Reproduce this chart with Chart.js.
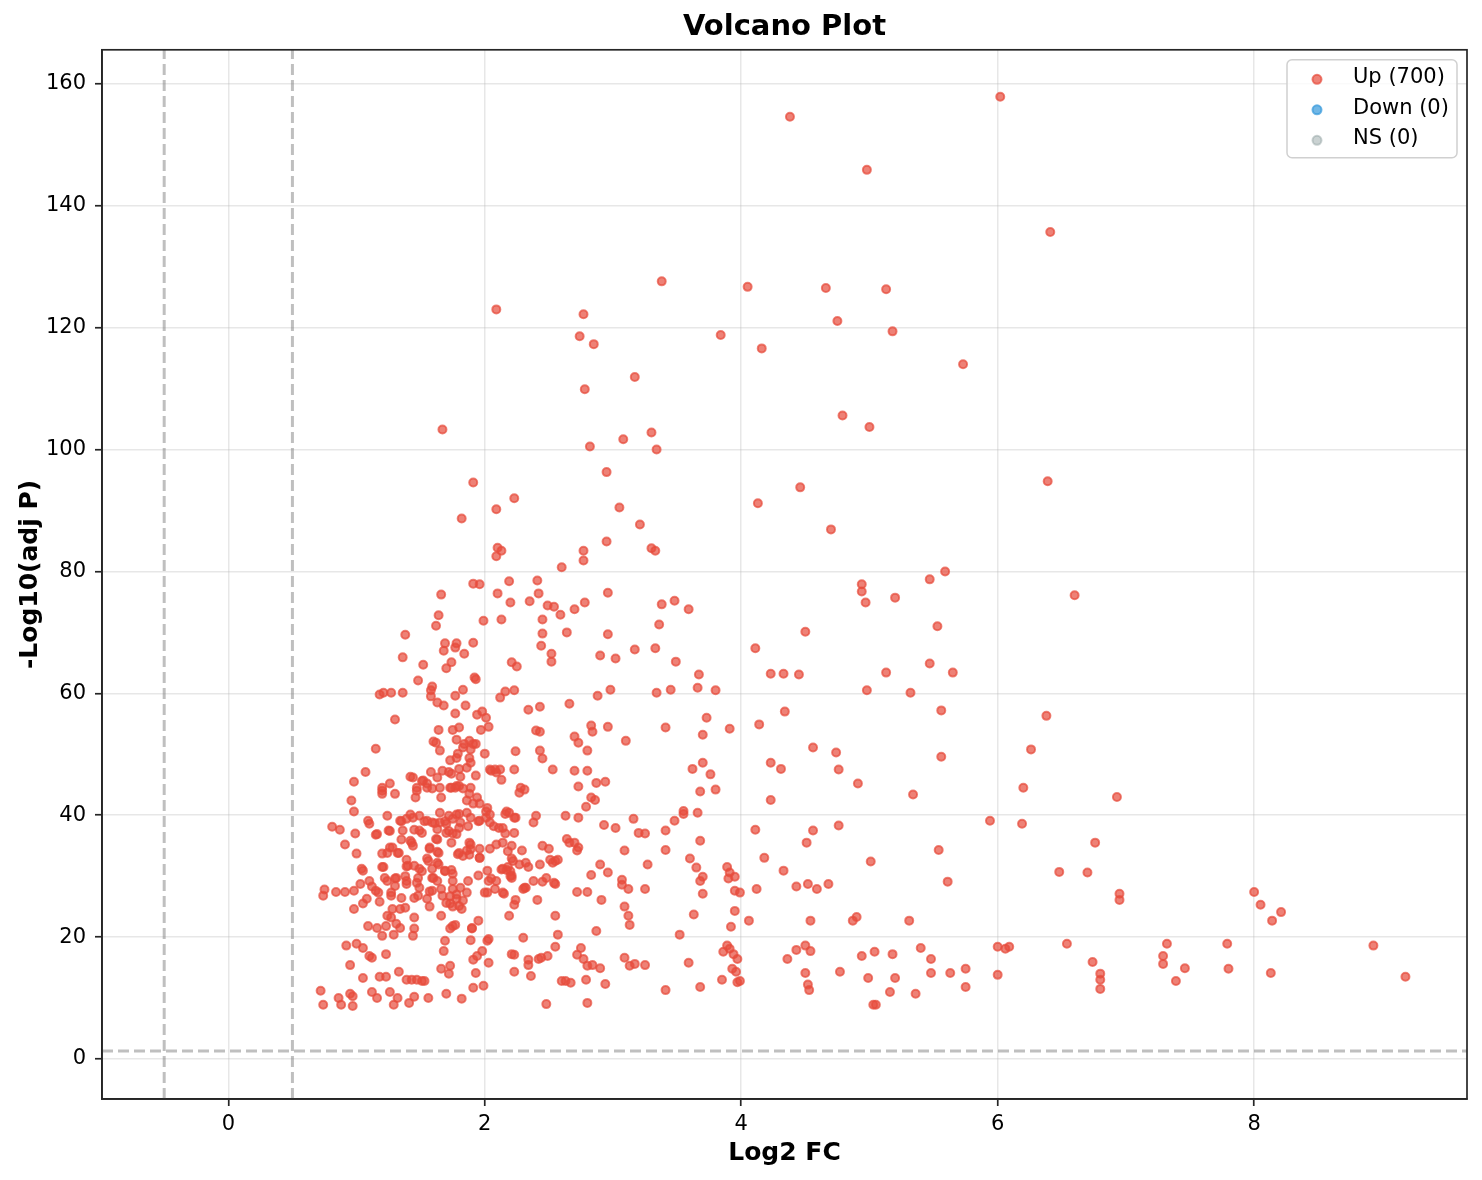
<!DOCTYPE html>
<html>
<head>
<meta charset="utf-8">
<title>Volcano Plot</title>
<script src="https://cdn.jsdelivr.net/npm/chart.js@4/dist/chart.umd.min.js"></script>
<style>
  body { margin: 0; background: #fff; }
  #wrap { width: 1482px; height: 1180px; }
</style>
</head>
<body>
<div id="wrap"><canvas id="volcano"></canvas></div>
<script>
// Up-regulated genes: [log2 fold change, -log10 adjusted p]
const upPoints = [
  [6.02,157.9],[4.38,154.6],[4.98,145.9],[6.41,135.7],[3.38,127.6],[4.05,126.7],[4.66,126.5],[5.13,126.3],
  [2.09,123.0],[2.77,122.2],[4.75,121.1],[5.18,119.4],[3.84,118.8],[2.74,118.6],[2.85,117.3],[4.16,116.6],
  [5.73,114.0],[3.17,111.9],[2.78,109.9],[4.79,105.6],[5.00,103.7],[1.67,103.3],[3.30,102.8],[3.08,101.7],
  [2.82,100.5],[3.34,100.0],[2.95,96.3],[6.39,94.8],[1.91,94.6],[4.46,93.8],[2.23,92.0],[4.13,91.2],
  [3.05,90.5],[2.09,90.2],[1.82,88.7],[3.21,87.7],[4.70,86.9],[2.95,84.9],[2.10,83.9],[3.30,83.8],
  [2.77,83.4],[2.13,83.4],[3.33,83.4],[2.09,82.5],[2.77,81.8],[2.60,80.7],[5.59,80.0],[5.47,78.7],
  [2.41,78.5],[2.19,78.4],[1.91,78.0],[1.96,77.9],[4.94,77.9],[4.94,76.7],[1.66,76.2],[2.96,76.5],
  [2.10,76.4],[6.60,76.1],[2.42,76.4],[5.20,75.7],[3.48,75.2],[2.35,75.1],[4.97,74.9],[2.78,74.9],
  [2.20,74.9],[2.49,74.4],[3.38,74.6],[2.54,74.2],[3.59,73.8],[2.70,73.8],[2.59,72.9],[1.64,72.8],
  [2.45,72.1],[1.99,71.9],[2.13,72.1],[5.53,71.0],[3.36,71.3],[1.62,71.1],[4.50,70.1],[2.45,69.8],
  [2.64,70.0],[2.96,69.7],[1.38,69.6],[1.69,68.2],[1.78,68.2],[1.91,68.3],[4.11,67.4],[3.17,67.2],
  [3.33,67.4],[1.68,67.0],[1.77,67.5],[2.44,67.8],[2.52,66.5],[1.84,66.5],[2.90,66.2],[1.36,65.9],
  [3.02,65.7],[2.52,65.2],[2.21,65.1],[3.49,65.2],[5.47,64.9],[1.74,65.1],[1.52,64.7],[2.25,64.4],
  [1.70,64.1],[4.23,63.2],[4.33,63.2],[4.45,63.1],[5.65,63.4],[5.13,63.4],[3.67,63.1],[1.92,62.6],
  [1.93,62.3],[1.48,62.1],[3.66,60.9],[1.59,61.1],[1.58,60.5],[3.45,60.6],[2.98,60.6],[3.80,60.5],
  [1.83,60.6],[4.98,60.5],[5.32,60.1],[1.21,60.1],[1.27,60.1],[1.36,60.1],[3.34,60.1],[2.16,60.3],
  [2.23,60.5],[1.18,59.8],[1.58,59.5],[1.77,59.6],[2.88,59.6],[2.12,59.3],[2.66,58.3],[1.63,58.5],
  [1.68,58.0],[1.85,58.0],[2.43,57.8],[1.98,57.0],[1.94,56.5],[2.34,57.3],[2.01,56.0],[4.34,57.0],
  [5.56,57.2],[1.77,56.7],[3.73,56.0],[6.38,56.3],[1.30,55.7],[4.14,54.9],[2.96,54.5],[2.83,54.7],
  [2.84,53.7],[3.41,54.4],[3.91,54.2],[1.64,54.0],[1.97,54.0],[1.80,54.4],[2.40,53.9],[2.43,53.7],
  [3.70,53.2],[2.70,52.9],[1.60,52.1],[3.10,52.2],[2.73,51.9],[1.84,51.7],[1.88,52.2],[1.93,51.7],
  [1.15,50.9],[4.56,51.1],[6.26,50.8],[2.43,50.6],[2.80,50.6],[4.74,50.3],[2.00,50.1],[1.65,50.6],
  [5.56,49.6],[3.70,48.6],[4.23,48.6],[2.45,49.3],[1.88,49.4],[1.78,49.4],[3.62,47.6],[4.31,47.6],
  [4.76,47.5],[1.07,47.1],[1.58,47.1],[2.04,47.5],[2.08,47.5],[2.12,47.5],[2.23,47.5],[2.53,47.5],
  [2.80,47.3],[2.70,47.3],[1.72,47.1],[3.76,46.7],[1.42,46.3],[1.93,46.5],[0.98,45.5],[1.52,45.7],
  [2.94,45.5],[2.87,45.3],[1.26,45.2],[4.91,45.2],[2.13,45.8],[6.20,44.5],[1.20,44.0],[2.73,44.7],
  [2.28,44.5],[2.31,44.2],[3.80,44.2],[3.68,43.9],[1.30,43.5],[1.77,44.5],[5.34,43.4],[6.93,43.0],
  [2.83,42.9],[2.86,42.5],[0.96,42.4],[4.23,42.5],[1.94,42.9],[1.96,41.9],[2.79,41.4],[0.98,40.6],
  [3.55,40.7],[3.55,40.2],[3.66,40.4],[2.19,40.4],[2.01,40.6],[2.40,39.9],[3.16,39.4],[2.73,39.6],
  [2.63,39.9],[5.94,39.1],[1.09,39.1],[1.10,38.6],[3.48,39.1],[4.76,38.3],[2.93,38.4],[3.02,37.9],
  [0.81,38.1],[6.19,38.6],[0.87,37.6],[1.45,37.6],[4.11,37.6],[4.56,37.5],[3.41,37.5],[0.99,37.0],
  [1.15,36.8],[3.20,37.1],[3.25,37.0],[6.76,35.5],[3.68,35.8],[4.51,35.5],[2.21,35.0],[0.91,35.2],
  [3.09,34.2],[3.41,34.3],[5.54,34.3],[2.50,34.5],[2.73,34.7],[2.45,35.0],[1.00,33.7],[2.29,34.2],
  [1.88,33.5],[3.60,32.9],[4.18,33.0],[5.01,32.4],[2.55,32.5],[2.32,32.2],[3.27,31.9],[2.18,31.5],
  [3.65,31.4],[3.89,31.5],[2.90,31.9],[3.91,30.6],[6.48,30.7],[6.70,30.6],[4.33,30.9],[3.70,29.9],
  [3.95,29.9],[3.07,29.4],[2.83,30.2],[2.96,30.6],[3.68,29.2],[3.90,29.6],[3.07,28.6],[4.52,28.7],
  [4.68,28.7],[5.61,29.1],[2.54,28.9],[2.31,28.1],[4.43,28.3],[4.59,27.9],[3.12,27.9],[3.95,27.6],
  [4.12,27.9],[3.25,27.9],[8.00,27.4],[2.72,27.4],[2.80,27.4],[3.99,27.3],[3.70,27.1],[6.95,27.1],
  [6.95,26.1],[0.75,27.8],[0.74,26.8],[0.84,27.4],[0.91,27.4],[0.98,27.6],[3.09,25.0],[8.05,25.3],
  [8.21,24.1],[3.95,24.3],[3.63,23.7],[2.55,23.5],[3.12,23.5],[8.14,22.7],[4.06,22.7],[4.54,22.7],
  [4.87,22.7],[4.90,23.3],[5.31,22.7],[3.13,22.0],[2.87,21.0],[3.92,21.7],[1.90,21.5],[2.30,19.9],
  [2.03,19.7],[7.79,18.9],[8.93,18.6],[7.32,18.9],[6.54,18.9],[6.00,18.4],[6.09,18.4],[6.06,18.1],
  [4.50,18.6],[4.54,17.7],[4.43,17.9],[5.40,18.2],[3.89,18.6],[3.91,18.1],[3.86,17.6],[2.75,18.2],
  [2.55,18.4],[5.04,17.6],[5.18,17.2],[4.94,16.9],[5.48,16.4],[7.29,16.9],[6.74,15.9],[7.29,15.6],
  [4.36,16.4],[3.97,16.4],[3.94,17.2],[3.09,16.6],[2.49,16.9],[2.42,16.4],[2.23,17.1],[2.34,16.3],
  [2.77,16.4],[2.80,15.3],[2.90,14.9],[3.17,15.6],[3.25,15.4],[3.13,15.3],[3.59,15.8],[7.46,14.9],
  [5.75,14.8],[7.80,14.8],[5.48,14.1],[3.96,14.3],[3.93,14.8],[4.50,14.1],[4.77,14.3],[8.13,14.1],
  [6.00,13.8],[6.80,14.0],[6.80,13.0],[9.18,13.5],[4.99,13.3],[5.20,13.3],[5.63,14.1],[3.85,13.0],
  [3.97,12.6],[3.99,12.8],[2.63,12.8],[2.67,12.5],[2.79,13.0],[2.94,12.3],[7.39,12.8],[5.75,11.8],
  [6.80,11.5],[4.52,12.2],[4.53,11.3],[3.68,11.8],[3.41,11.3],[5.16,11.0],[5.36,10.7],[2.80,9.2],
  [2.48,9.0],[5.03,8.9],[5.05,8.9],
  // dense cluster around log2FC 1-2.5
  [1.20,44.5],[1.20,43.5],[1.47,44.0],[1.46,42.9],[1.55,45.2],[1.59,44.4],[1.65,44.5],[1.66,42.9],
  [1.74,44.5],[1.78,44.8],[1.83,44.4],[1.88,43.5],[1.91,41.9],[1.86,42.4],[2.02,41.2],[1.24,39.9],
  [1.25,37.5],[1.34,39.1],[1.39,39.4],[1.44,39.6],[1.49,39.9],[1.55,39.1],[1.59,38.8],[1.65,38.8],
  [1.70,38.6],[1.75,39.4],[1.80,40.2],[1.86,40.4],[1.96,39.1],[2.01,39.6],[2.04,38.8],[1.36,37.5],
  [1.49,37.5],[1.70,37.1],[1.75,37.0],[1.80,37.9],[1.35,36.0],[1.43,35.5],[1.44,35.0],[1.62,36.1],
  [1.74,35.5],[1.88,35.5],[2.04,34.5],[1.96,34.5],[1.26,34.7],[1.20,33.7],[1.24,33.8],[1.32,33.8],
  [1.57,34.5],[1.63,34.0],[1.80,33.8],[1.86,34.2],[1.83,33.3],[1.96,33.0],[1.39,32.7],[1.55,32.9],
  [1.56,32.5],[1.63,32.2],[1.45,31.7],[1.04,31.2],[1.05,30.9],[1.20,31.5],[1.40,31.7],[1.49,31.2],
  [1.59,31.2],[1.69,30.9],[1.74,31.0],[1.75,30.4],[1.31,29.7],[1.30,29.6],[1.39,29.2],[1.48,29.7],
  [1.47,28.9],[1.59,29.7],[1.75,29.2],[1.95,30.1],[2.02,30.9],[2.05,29.6],[1.03,28.7],[1.10,29.2],
  [1.12,28.3],[1.15,27.6],[1.24,29.2],[1.30,28.4],[1.39,28.7],[1.49,28.1],[1.59,27.6],[1.66,27.9],
  [1.67,26.8],[1.75,27.9],[1.86,27.3],[2.02,27.3],[2.08,27.9],[2.09,29.2],[0.98,24.6],[1.05,25.5],
  [1.08,26.3],[1.18,25.8],[1.27,26.8],[1.35,26.4],[1.45,26.4],[1.48,26.8],[1.55,26.3],[1.70,25.6],
  [1.78,26.3],[1.80,25.1],[1.83,26.0],[1.28,24.6],[1.34,24.6],[1.38,24.8],[1.57,25.0],[1.73,25.5],
  [1.75,25.0],[1.82,24.6],[1.45,23.2],[1.24,23.5],[1.27,23.2],[1.66,23.5],[1.95,22.7],[1.90,21.4],
  [1.09,21.8],[1.16,21.5],[1.23,21.8],[1.31,22.2],[1.34,21.5],[1.45,21.4],[1.44,20.2],[1.20,20.2],
  [1.29,20.4],[1.75,21.8],[1.77,22.0],[1.73,21.4],[0.92,18.6],[1.00,18.9],[1.05,18.2],[1.10,16.9],
  [1.12,16.6],[1.23,17.2],[1.69,19.4],[1.68,17.7],[1.89,19.5],[1.91,16.3],[1.94,16.9],[1.98,17.7],
  [2.03,15.8],[2.02,19.4],[0.95,15.4],[1.05,13.3],[1.18,13.5],[1.23,13.5],[1.33,14.3],[1.39,13.0],
  [1.43,13.0],[1.47,13.0],[1.51,12.8],[1.53,12.8],[1.66,14.8],[1.73,15.3],[1.72,14.0],[1.93,14.1],
  [1.99,12.0],[1.91,11.7],[0.72,11.2],[0.74,8.9],[0.86,10.0],[0.88,8.9],[0.95,10.7],[0.97,10.3],
  [0.97,8.7],[1.12,11.0],[1.16,10.0],[1.26,11.0],[1.29,8.9],[1.32,10.0],[1.41,9.2],[1.45,10.2],
  [1.56,10.0],[1.70,10.7],[1.82,9.9],
  [1.75,54.0],[2.03,54.5],[1.62,51.9],[1.78,52.4],[1.91,51.7],[1.83,51.1],[1.79,50.1],[1.73,49.0],
  [1.67,47.3],[1.74,46.8],[1.80,47.6],[2.05,47.3],[2.09,47.0],[1.44,46.2],[1.63,46.2],[1.47,44.5],
  [1.55,44.5],[1.73,44.5],[1.80,44.8],
  [2.27,43.7],[2.17,40.6],[2.16,40.2],[2.23,39.6],[2.38,38.8],[2.14,37.9],[2.16,37.0],[2.23,37.1],
  [2.14,35.5],[2.64,36.1],[2.66,35.5],[2.70,35.5],[2.72,34.2],[2.21,32.9],[2.22,32.5],[2.27,31.9],
  [2.34,31.5],[2.43,31.9],[2.51,32.7],[2.53,32.2],[2.57,32.7],[2.14,31.2],[2.17,31.0],[2.21,30.1],
  [2.21,29.7],[2.48,29.7],[2.45,29.1],[2.38,29.2],[2.32,28.1],[2.30,27.9],[2.55,28.7],[2.15,27.1],
  [2.24,26.1],[2.23,25.3],[2.41,26.1],[2.91,26.1],[2.19,23.5],[2.57,20.4],[3.52,20.4],[2.21,17.2],
  [2.34,15.4],[2.44,16.6],[2.72,17.1],[2.84,15.4],[2.23,14.3],[2.36,13.6],[2.60,12.8],
  [1.42,40.1],[1.53,39.0],[1.61,38.7],[1.65,40.4],[1.69,39.0],[1.72,39.9],[1.78,40.1],[1.81,38.8],
  [1.89,39.6],[1.95,39.0],[2.04,40.1],[2.24,39.6],[1.35,39.0],[1.26,37.4],[1.51,37.1],[1.63,37.7],
  [1.72,37.4],[1.78,36.9],[1.87,38.2],[2.07,38.2],[2.11,37.9],[1.16,36.9],[1.42,35.8],[1.63,36.0],
  [1.89,35.2],[2.09,35.2],[1.28,34.7],[1.33,33.8],[1.57,34.7],[1.64,33.8],[1.79,33.6],[1.89,34.4],
  [1.96,33.0],[2.18,34.1],[1.21,31.5],[1.39,31.6],[1.51,30.8],[1.64,31.9],[1.69,30.8],[2.13,31.1],
  [2.20,30.8],[1.22,29.7],[1.38,30.0],[1.60,29.7],[1.63,29.2],[1.81,28.1],[1.87,29.2],[2.03,29.2],
  [2.20,30.0],[1.17,27.3],[1.27,27.3],[1.57,27.5],[1.73,26.7],[1.78,27.0],[2.00,27.3],[2.14,27.3],
  [1.89,50.8],[1.89,48.6],[1.81,46.3],[1.86,47.8],[2.24,50.5],[1.51,45.6],[1.89,44.5]
];
const downPoints = [];
const nsPoints = [];

const legendLabels = ['Up (700)', 'Down (0)', 'NS (0)'];
const fcCutoff = 0.5;          // |log2 FC| threshold lines
const pCutoff = 1.3;           // -log10(0.05)
const xTicks = [0, 2, 4, 6, 8];
const yTicks = [0, 20, 40, 60, 80, 100, 120, 140, 160];
const xMin = -0.985, xMax = 9.66;
const yMin = -6.57, yMax = 165.6;

const toXY = p => ({ x: p[0], y: p[1] });
const dashed = {
  type: 'line', pointRadius: 0, borderWidth: 3, borderDash: [11, 5],
  borderColor: 'rgba(128,128,128,0.5)', fill: false, order: 0
};

// matplotlib style box around the plot (top and right spines)
const framePlugin = {
  id: 'frame',
  afterDatasetsDraw(chart) {
    const { ctx, chartArea: a } = chart;
    ctx.save();
    ctx.strokeStyle = '#262626';
    ctx.lineWidth = 1.7;
    ctx.strokeRect(a.left, a.top, a.right - a.left, a.bottom - a.top);
    ctx.restore();
  }
};

// legend inside the upper right corner of the plot
const cornerLegend = {
  id: 'cornerLegend',
  afterDraw(chart) {
    const { ctx, chartArea: a } = chart;
    const w = 170, h = 98;
    const x0 = a.right - 10 - w, y0 = a.top + 10;
    ctx.save();
    ctx.beginPath();
    ctx.roundRect(x0, y0, w, h, 5);
    ctx.fillStyle = 'rgba(255,255,255,0.8)';
    ctx.fill();
    ctx.strokeStyle = '#d0d0d0';
    ctx.lineWidth = 1.5;
    ctx.stroke();
    ctx.font = '21px "DejaVu Sans"';
    ctx.textBaseline = 'middle';
    ctx.textAlign = 'left';
    chart.data.datasets.filter(d => d.type === 'scatter').forEach((d, i) => {
      const cy = y0 + 18 + i * 30.5;
      ctx.beginPath();
      ctx.arc(x0 + 30, cy + 1.5, 4.5, 0, Math.PI * 2);
      ctx.fillStyle = d.backgroundColor;
      ctx.fill();
      ctx.lineWidth = 2;
      ctx.strokeStyle = d.borderColor;
      ctx.stroke();
      ctx.fillStyle = '#000';
      ctx.fillText(legendLabels[i], x0 + 66, cy);
    });
    ctx.restore();
  }
};

const tickFont = { family: 'DejaVu Sans', size: 21 };
const labelFont = { family: 'DejaVu Sans', size: 25, weight: 'bold' };

new Chart(document.getElementById('volcano'), {
  data: {
    datasets: [
      {
        type: 'scatter', label: legendLabels[0], data: upPoints.map(toXY),
        backgroundColor: 'rgba(231,76,60,0.7)', borderColor: 'rgba(231,76,60,0.7)',
        borderWidth: 2, pointRadius: 4, order: 1
      },
      {
        type: 'scatter', label: legendLabels[1], data: downPoints.map(toXY),
        backgroundColor: 'rgba(52,152,219,0.7)', borderColor: 'rgba(52,152,219,0.7)',
        borderWidth: 2, pointRadius: 4, order: 1
      },
      {
        type: 'scatter', label: legendLabels[2], data: nsPoints.map(toXY),
        backgroundColor: 'rgba(149,165,166,0.5)', borderColor: 'rgba(149,165,166,0.5)',
        borderWidth: 2, pointRadius: 4, order: 1
      },
      { ...dashed, data: [{ x: -fcCutoff, y: yMin }, { x: -fcCutoff, y: yMax }] },
      { ...dashed, data: [{ x: fcCutoff, y: yMin }, { x: fcCutoff, y: yMax }] },
      { ...dashed, data: [{ x: xMin, y: pCutoff }, { x: xMax, y: pCutoff }] }
    ]
  },
  options: {
    responsive: true,
    maintainAspectRatio: false,
    devicePixelRatio: 1,
    animation: false,
    events: [],
    layout: { padding: { left: 0, right: 15, top: 0, bottom: 0 } },
    plugins: {
      legend: { display: false },
      tooltip: { enabled: false },
      title: {
        display: true, text: 'Volcano Plot', fullSize: false, color: '#000',
        font: { family: 'DejaVu Sans', size: 29, weight: 'bold', lineHeight: 1.2 },
        padding: { top: 10, bottom: 5 }
      }
    },
    scales: {
      x: {
        type: 'linear', min: xMin, max: xMax,
        afterBuildTicks: s => { s.ticks = xTicks.map(v => ({ value: v })); },
        afterFit: s => { s.height = 81; },
        ticks: { font: tickFont, color: '#000', padding: 6, maxRotation: 0, autoSkip: false },
        grid: { color: 'rgba(176,176,176,0.3)', lineWidth: 1.5, tickColor: '#262626', tickLength: 7, tickWidth: 1.7 },
        border: { color: '#262626', width: 1.7 },
        title: { display: true, text: 'Log2 FC', color: '#000', font: labelFont, padding: { top: 0, bottom: 12 } }
      },
      y: {
        type: 'linear', min: yMin, max: yMax,
        afterBuildTicks: s => { s.ticks = yTicks.map(v => ({ value: v })); },
        afterFit: s => { s.width = 102; },
        ticks: { font: tickFont, color: '#000', padding: 9, autoSkip: false },
        grid: { color: 'rgba(176,176,176,0.3)', lineWidth: 1.5, tickColor: '#262626', tickLength: 7, tickWidth: 1.7 },
        border: { color: '#262626', width: 1.7 },
        title: { display: true, text: '-Log10(adj P)', color: '#000', font: labelFont, padding: { top: 15, bottom: 0 } }
      }
    }
  },
  plugins: [framePlugin, cornerLegend]
});
</script>
</body>
</html>
